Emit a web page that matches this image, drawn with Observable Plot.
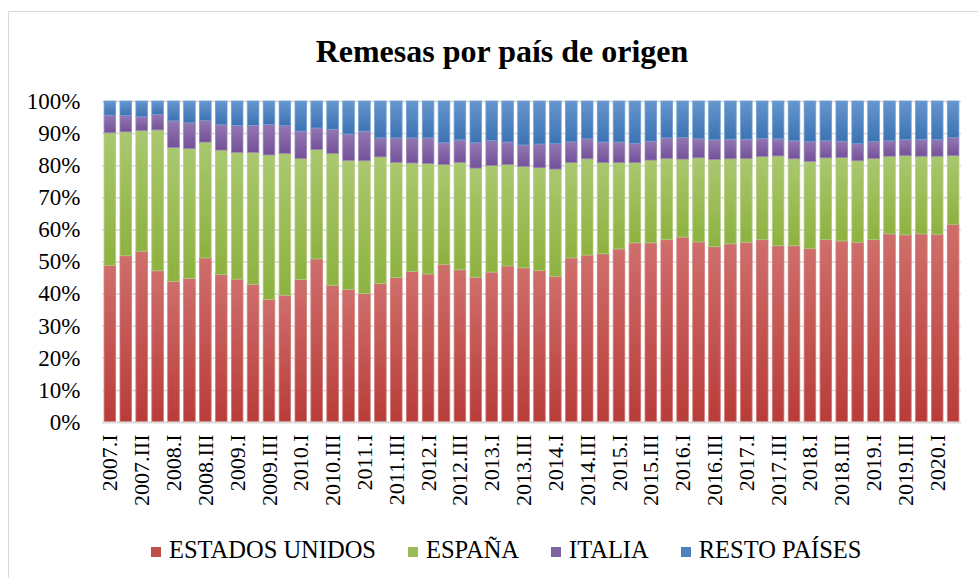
<!DOCTYPE html>
<html><head><meta charset="utf-8">
<script src="https://cdn.jsdelivr.net/npm/d3@7"></script>
<script src="https://cdn.jsdelivr.net/npm/@observablehq/plot@0.6"></script>
<style>
body{margin:0;background:#fff;}
#wrap{position:relative;width:978px;height:578px;overflow:hidden;font-family:"Liberation Serif","Times New Roman",serif;background:#fff;}
#frame{position:absolute;left:8px;top:11px;width:1200px;height:800px;border:1.5px solid #d9d9d9;}
#title{position:absolute;left:0;top:31px;width:1004px;text-align:center;font-weight:bold;font-size:32px;line-height:40px;color:#000;}
#chart{position:absolute;left:0;top:80px;}
#legend{position:absolute;left:151px;top:535px;text-align:left;font-size:24.5px;line-height:30px;color:#000;white-space:nowrap;font-family:"Liberation Serif","Times New Roman",serif;}
#legend span.item{margin-right:32px;}
#legend span.sw{display:inline-block;width:10px;height:10px;margin-right:8px;vertical-align:1px;}
</style></head>
<body>
<div id="wrap">
<div id="frame"></div>
<div id="title">Remesas por país de origen</div>
<div id="chart"></div>
<div id="legend"></div>
</div>
<script>
const quarters = ["2007.I","2007.II","2007.III","2007.IV","2008.I","2008.II","2008.III","2008.IV","2009.I","2009.II","2009.III","2009.IV","2010.I","2010.II","2010.III","2010.IV","2011.I","2011.II","2011.III","2011.IV","2012.I","2012.II","2012.III","2012.IV","2013.I","2013.II","2013.III","2013.IV","2014.I","2014.II","2014.III","2014.IV","2015.I","2015.II","2015.III","2015.IV","2016.I","2016.II","2016.III","2016.IV","2017.I","2017.II","2017.III","2017.IV","2018.I","2018.II","2018.III","2018.IV","2019.I","2019.II","2019.III","2019.IV","2020.I","2020.II"];
const seriesNames = ["ESTADOS UNIDOS","ESPAÑA","ITALIA","RESTO PAÍSES"];
const estadosUnidos = [48.8,51.8,53.2,47.1,43.8,44.7,51.1,45.9,44.5,42.9,38.2,39.5,44.4,50.8,42.6,41.3,40.0,43.1,45.0,46.9,46.1,49.1,47.4,45.1,46.7,48.6,48.0,47.2,45.4,51.1,52.0,52.4,53.9,55.8,55.8,56.8,57.6,56.1,54.6,55.5,56.0,56.8,54.9,54.9,54.1,56.8,56.4,56.0,56.8,58.6,58.3,58.6,58.5,61.6];
const espana = [41.3,38.6,37.6,43.9,41.7,40.5,36.1,38.8,39.5,41.1,45.0,44.2,37.7,34.1,41.1,40.2,41.4,39.5,35.9,33.8,34.4,31.1,33.5,34.0,33.2,31.6,31.6,32.0,33.4,29.7,30.0,28.4,26.9,25.0,25.8,25.3,24.3,26.2,27.2,26.5,26.1,25.9,28.0,27.1,27.1,25.5,26.0,25.4,25.3,24.2,24.7,24.2,24.3,21.4];
const italia = [5.5,5.1,4.3,4.8,8.3,8.0,6.7,7.9,8.4,8.4,9.5,8.6,8.5,6.7,7.5,8.2,9.2,5.9,7.6,7.8,8.0,6.8,7.0,7.9,7.8,7.0,6.7,7.4,7.9,6.5,6.2,6.4,6.4,6.0,5.9,6.4,6.7,5.9,6.1,6.1,6.0,5.6,5.3,5.6,6.1,5.3,5.1,5.3,5.3,4.8,5.0,5.2,5.2,5.6];
const restoPaises = [4.4,4.5,4.9,4.2,6.2,6.8,6.1,7.4,7.6,7.6,7.3,7.7,9.4,8.4,8.8,10.3,9.4,11.5,11.5,11.5,11.5,13.0,12.1,13.0,12.3,12.8,13.7,13.4,13.3,12.7,11.8,12.8,12.8,13.2,12.5,11.5,11.4,11.8,12.1,11.9,11.9,11.7,11.8,12.4,12.7,12.4,12.5,13.3,12.6,12.4,12.0,12.0,12.0,11.4];
const yTicks = [0,0.1,0.2,0.3,0.4,0.5,0.6,0.7,0.8,0.9,1.0];
const xTickLabels = quarters.filter((q,i) => i % 2 === 0);

const baseColors = ["#C0504D","#9BBB59","#8064A2","#4F81BD"];
const gradStops = [["#CF6E6B","#B83C39"],["#AAC86F","#8DB23F"],["#9377B2","#73519A"],["#6596CE","#3D73B3"]];
const edgeColors = ["#D27A77","#B2CC80","#9D86B8","#73A0D4"];
const gradIds = ["gUS","gES","gIT","gRP"];

const valuesBySeries = [estadosUnidos, espana, italia, restoPaises];
const data = [];
quarters.forEach((q, i) => {
  seriesNames.forEach((s, j) => {
    data.push({quarter: q, series: s, value: valuesBySeries[j][i] / 100});
  });
});

const chart = Plot.plot({
  width: 976,
  height: 450,
  marginLeft: 102,
  marginRight: 15,
  marginTop: 21,
  marginBottom: 108,
  style: {fontFamily: "'Liberation Serif','Times New Roman',serif", fontSize: "20px", color: "#000", background: "transparent"},
  x: {domain: quarters, paddingInner: 0.27, paddingOuter: 0.13, label: null},
  y: {domain: [0, 1], label: null},
  color: {domain: seriesNames, range: gradIds.map(id => `url(#${id})`)},
  marks: [
    Plot.ruleY(yTicks.slice(1), {stroke: "#d9d9d9", strokeWidth: 1.5}),
    Plot.barY(data, Plot.stackY({order: seriesNames}, {x: "quarter", y: "value", z: "series", fill: "series", stroke: d => edgeColors[seriesNames.indexOf(d.series)], strokeWidth: 0.8})),
    Plot.ruleY([0], {stroke: "#d9d9d9", strokeWidth: 2}),
    Plot.axisY({ticks: yTicks, tickFormat: d3.format(".0%"), tickSize: 0, tickPadding: 22, fontSize: 23}),
    Plot.axisX({ticks: xTickLabels, tickRotate: -90, tickSize: 0, tickPadding: 12, fontSize: 22, label: null})
  ]
});

const ns = "http://www.w3.org/2000/svg";
const defs = document.createElementNS(ns, "defs");
gradIds.forEach((id, k) => {
  const lg = document.createElementNS(ns, "linearGradient");
  lg.setAttribute("id", id);
  lg.setAttribute("x1", "0"); lg.setAttribute("y1", "0");
  lg.setAttribute("x2", "0"); lg.setAttribute("y2", "1");
  [[0, gradStops[k][0]], [1, gradStops[k][1]]].forEach(([o, c]) => {
    const st = document.createElementNS(ns, "stop");
    st.setAttribute("offset", o);
    st.setAttribute("stop-color", c);
    lg.appendChild(st);
  });
  defs.appendChild(lg);
});
chart.insertBefore(defs, chart.firstChild);
document.getElementById("chart").appendChild(chart);

const legend = document.getElementById("legend");
seriesNames.forEach((s, k) => {
  const item = document.createElement("span");
  item.className = "item";
  const sw = document.createElement("span");
  sw.className = "sw";
  sw.style.background = baseColors[k];
  item.appendChild(sw);
  item.appendChild(document.createTextNode(s));
  legend.appendChild(item);
});
</script>
</body></html>
